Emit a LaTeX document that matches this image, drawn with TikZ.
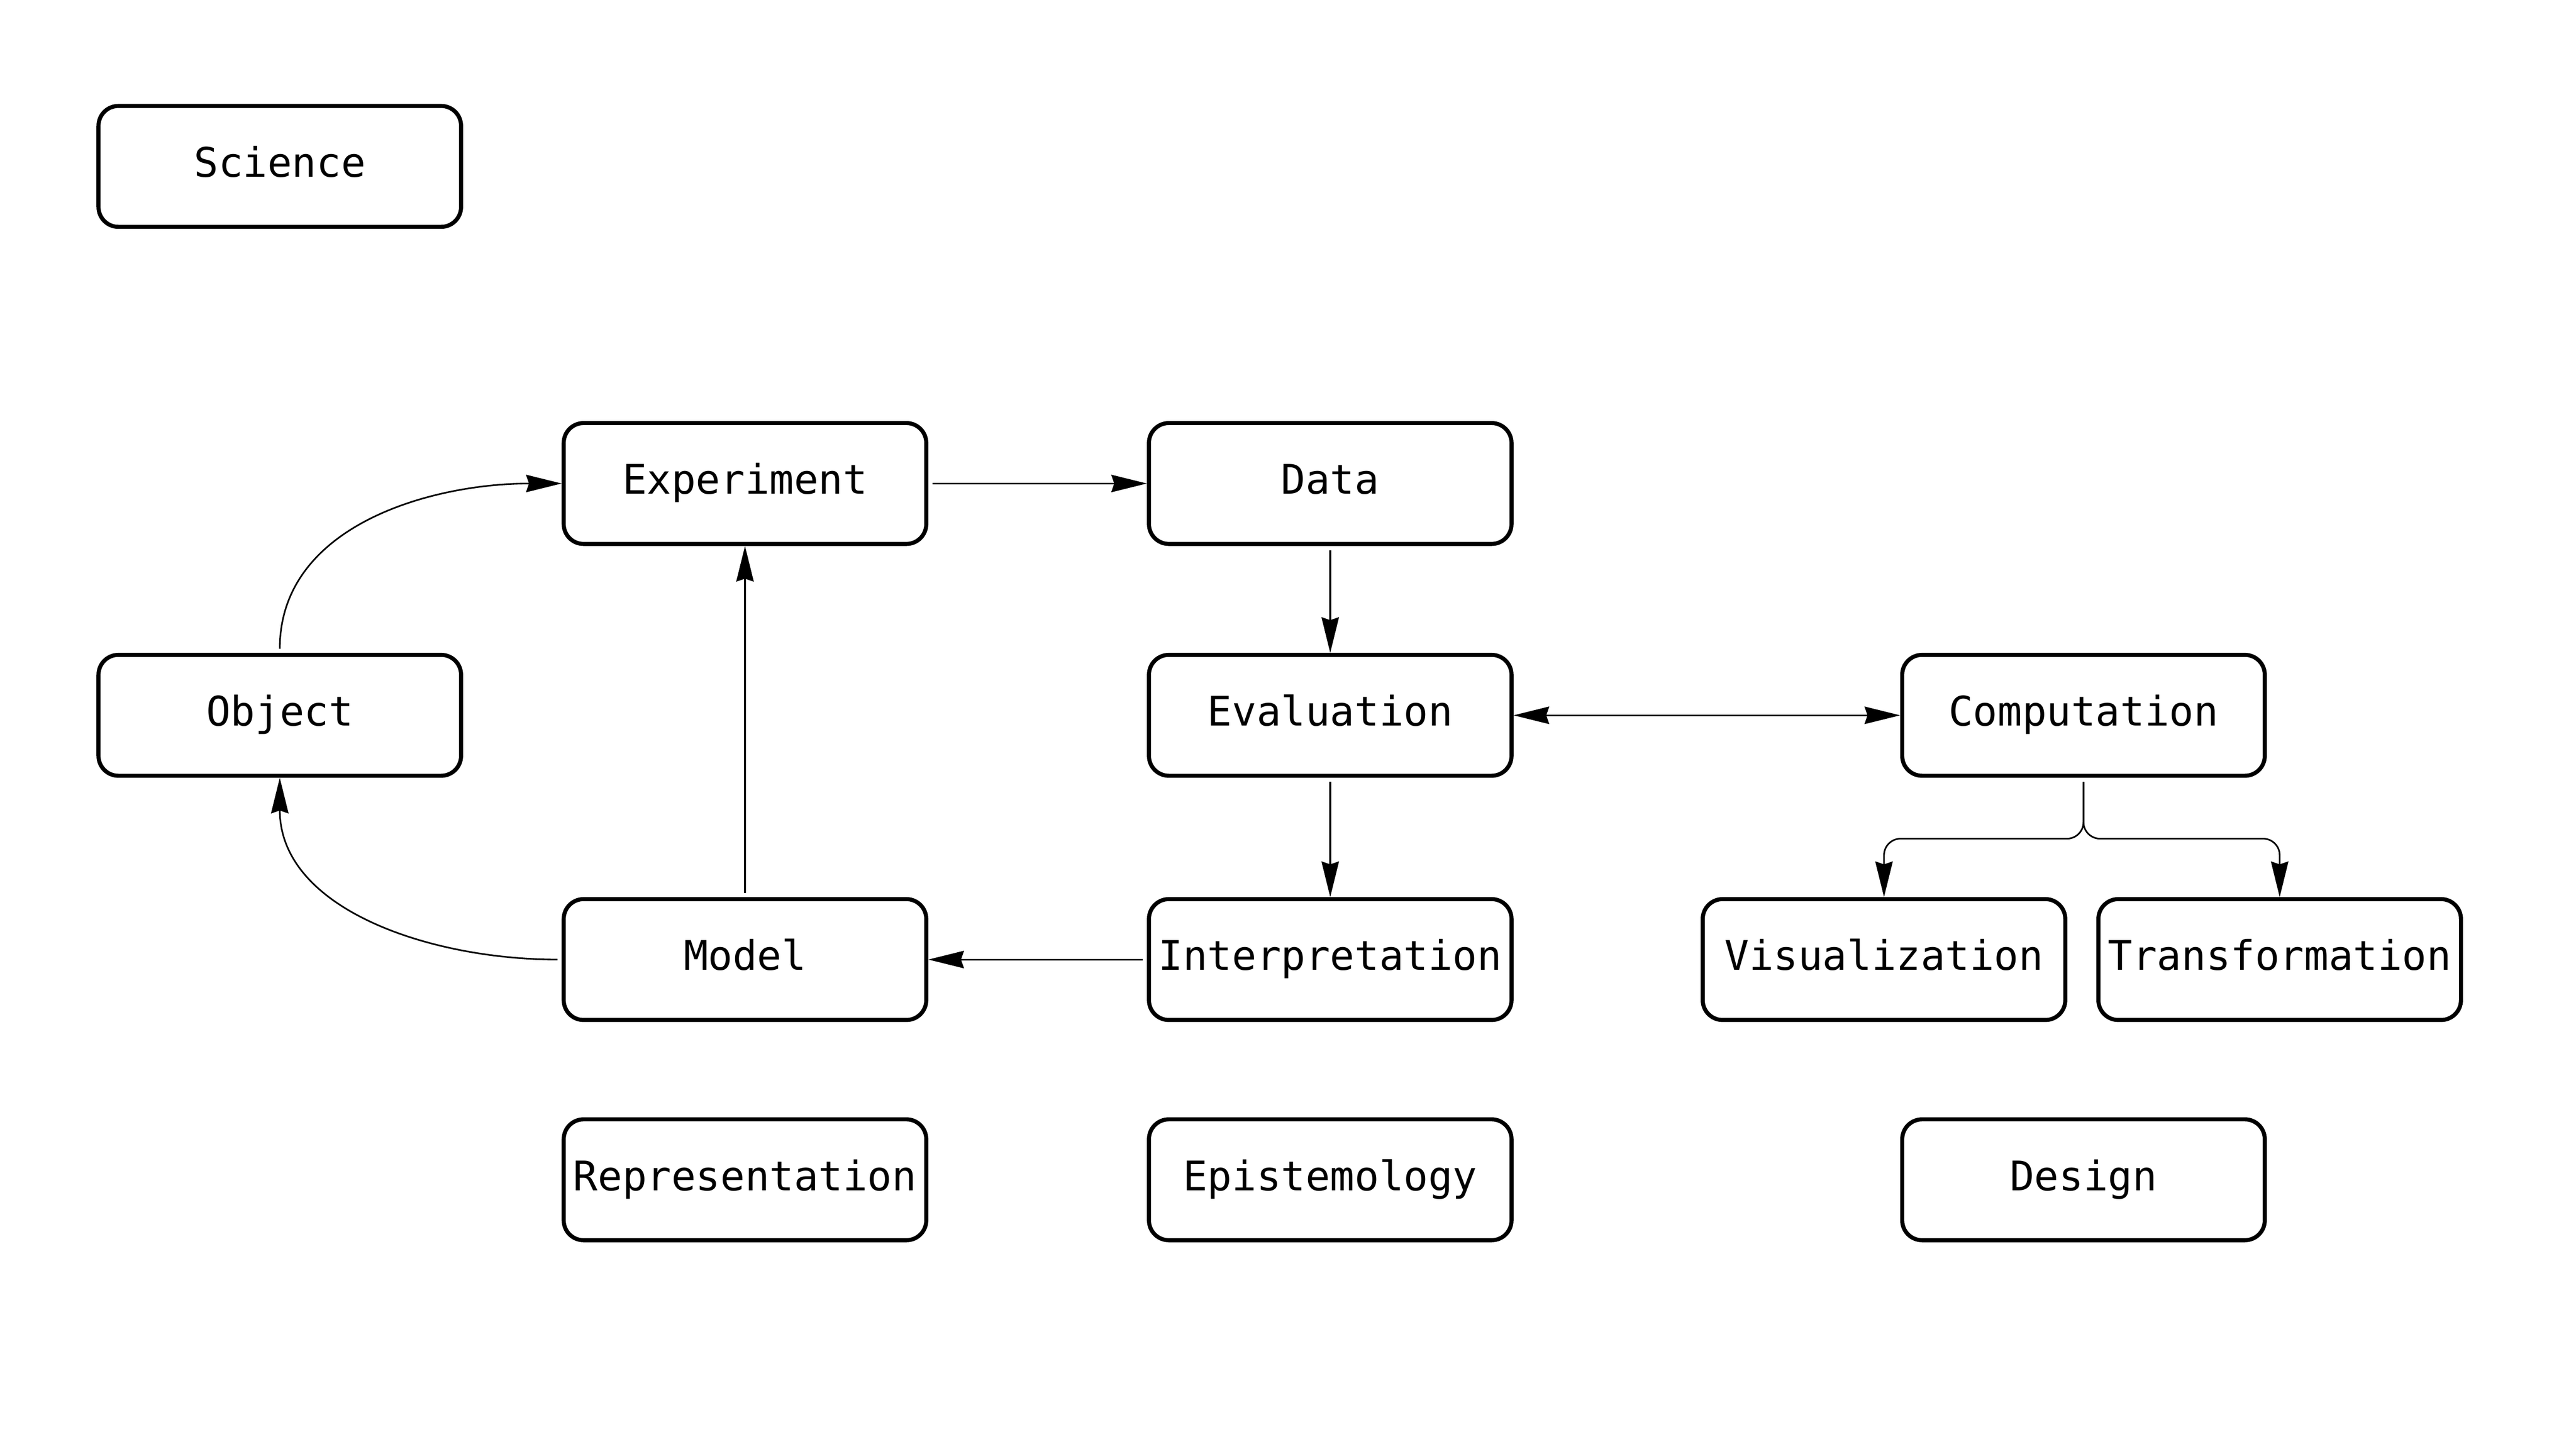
\documentclass[tikz,border=0pt]{standalone}
\usepackage{fontspec}
\setmonofont{DejaVu Sans Mono}
\usetikzlibrary{arrows.meta}

\begin{document}
\begin{tikzpicture}[
		>={Stealth[length=0.43cm, width=0.21cm, inset=0.035cm]},
		box/.style={draw, line width=1.4pt, rounded corners=0.24cm, minimum width=4.38cm, minimum height=1.46cm, inner sep=0pt, text height=0.73em, text depth=0pt, font=\ttfamily\fontsize{14}{17}\selectfont},
		link/.style={line width=0.55pt, shorten <=0.05cm, ->}
	]
				\useasboundingbox (0,0) rectangle (31.12,-17.5);
				
				\coordinate (Sc) at (3.38,-2.01);
				\coordinate (Ex) at (9.00,-5.84);
				\coordinate (Da) at (16.07,-5.84);
				\coordinate (Ob) at (3.38,-8.64);
				\coordinate (Ev) at (16.07,-8.64);
				\coordinate (Co) at (25.17,-8.64);
				\coordinate (Mo) at (9.00,-11.59);
				\coordinate (In) at (16.07,-11.59);
				\coordinate (Vi) at (22.76,-11.59);
				\coordinate (Tr) at (27.54,-11.59);
				
				\node[box] (science) at (Sc) {Science};
				\node[box] (experiment) at (Ex) {Experiment};
				\node[box] (data) at (Da) {Data};
				\node[box] (object) at (Ob) {Object};
				\node[box] (evaluation) at (Ev) {Evaluation};
				\node[box] (computation) at (Co) {Computation};
				\node[box] (model) at (Mo) {Model};
				\node[box] (interpretation) at (In) {Interpretation};
				\node[box] (visualization) at (Vi) {Visualization};
				\node[box] (transformation) at (Tr) {Transformation};
				\node[box] (representation) at (9.00,-14.25) {Representation};
				\node[box] (epistemology) at (16.07,-14.25) {Epistemology};
				\node[box] (design) at (25.17,-14.25) {Design};
				
				\coordinate (split) at (25.17,-10.13);
				
				\draw[link] (object.north) to[out=90,in=180] (experiment.west);
				\draw[link] (model.west) to[out=180,in=270] (object.south);
				\draw[link] (model.north) -- (experiment.south);
				\draw[link] (experiment.east) -- (data.west);
				\draw[link] (data.south) -- (evaluation.north);
				\draw[line width=0.55pt, <->] (evaluation.east) -- (computation.west);
				\draw[link] (evaluation.south) -- (interpretation.north);
				\draw[link] (interpretation.west) -- (model.east);
				\draw[link, rounded corners=0.2cm] (computation.south) -- (split) -| (visualization.north);
				\draw[link, rounded corners=0.2cm] (computation.south) -- (split) -| (transformation.north);
			\end{tikzpicture}
\end{document}
